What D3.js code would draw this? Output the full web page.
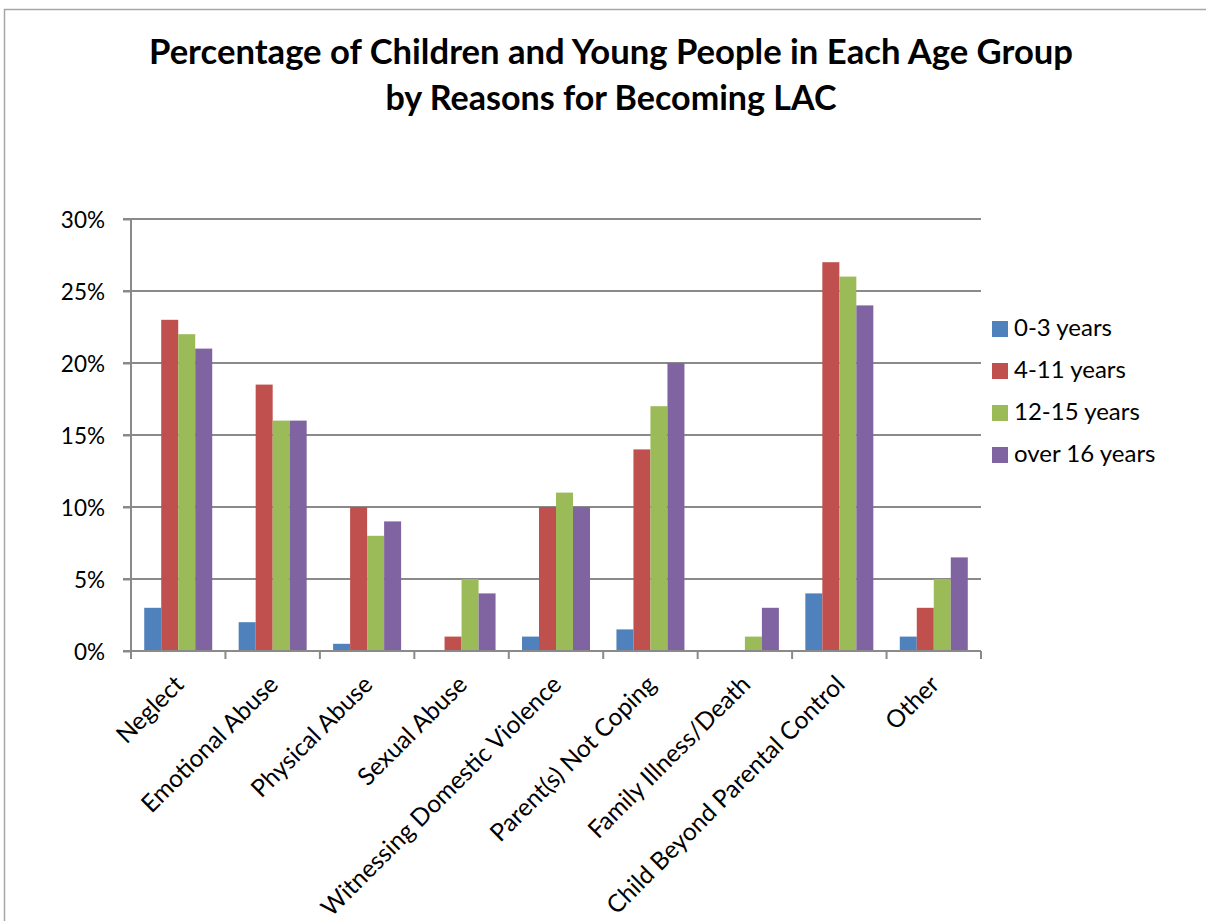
<!DOCTYPE html>
<html>
<head>
<meta charset="utf-8">
<script src="https://cdn.jsdelivr.net/npm/d3@7"></script>
<style>
  body { margin: 0; background: #fff; }
  svg { display: block; }
  text { font-family: Lato, "Open Sans", sans-serif; fill: #000; }
</style>
</head>
<body>
<svg id="chart" width="1206" height="921"></svg>
<script>
const categories = ["Neglect", "Emotional Abuse", "Physical Abuse", "Sexual Abuse",
  "Witnessing Domestic Violence", "Parent(s) Not Coping", "Family Illness/Death",
  "Child Beyond Parental Control", "Other"];
const seriesNames = ["0-3 years", "4-11 years", "12-15 years", "over 16 years"];
const age0to3   = [3, 2, 0.5, 0, 1, 1.5, 0, 4, 1];
const age4to11  = [23, 18.5, 10, 1, 10, 14, 0, 27, 3];
const age12to15 = [22, 16, 8, 5, 11, 17, 1, 26, 5];
const ageOver16 = [21, 16, 9, 4, 10, 20, 3, 24, 6.5];
const yTicks = [0, 5, 10, 15, 20, 25, 30];
const titleLines = ["Percentage of Children and Young People in Each Age Group",
                    "by Reasons for Becoming LAC"];
const colors = ["#4F81BD", "#C0504D", "#9BBB59", "#8064A2"];

const seriesValues = [age0to3, age4to11, age12to15, ageOver16];

const svg = d3.select("#chart");

// outer frame
svg.append("path")
  .attr("d", "M4.5,921 L4.5,9.5 L1206,9.5")
  .attr("fill", "none").attr("stroke", "#a6a6a6").attr("stroke-width", 1.5);

// title
const titleWidths = [924, 451];
const titleY = [64, 110];
titleLines.forEach((t, i) => {
  const el = svg.append("text")
    .attr("x", 611).attr("y", titleY[i])
    .attr("text-anchor", "middle")
    .style("font-weight", "700")
    .style("font-size", "30px")
    .text(t);
  const w = el.node().getComputedTextLength();
  el.style("font-size", (30 * titleWidths[i] / w).toFixed(2) + "px");
});

const x0 = 131, x1 = 981, yTop = 219, yBot = 651;
const y = d3.scaleLinear().domain([0, 30]).range([yBot, yTop]);
const x = d3.scaleBand().domain(categories).range([x0, x1]).padding(0);
const groupW = x.bandwidth() * 0.72;
const xs = d3.scaleBand().domain(seriesNames).range([0, groupW]).padding(0);

// gridlines
svg.append("g").selectAll("line").data(yTicks.filter(d => d > 0)).join("line")
  .attr("x1", x0 - 8).attr("x2", x1)
  .attr("y1", d => y(d)).attr("y2", d => y(d))
  .attr("stroke", "#8a8a8a").attr("stroke-width", 2);

// y axis
const yAxis = d3.axisLeft(y).tickValues(yTicks).tickFormat(d => d + "%").tickSize(8).tickPadding(18);
const gy = svg.append("g").attr("transform", `translate(${x0},0)`).call(yAxis);
gy.select(".domain").attr("stroke", "#8a8a8a").attr("stroke-width", 2).attr("d", `M-8,${yTop}H0V${yBot}H-8`);
gy.selectAll(".tick line").attr("stroke", "#8a8a8a").attr("stroke-width", 2);
gy.selectAll(".tick text").style("font-size", "22.5px").style("font-family", "Lato, sans-serif").attr("fill", "#000").attr("dy", "0.36em");

// bars
const groups = svg.append("g").selectAll("g").data(categories).join("g")
  .attr("transform", d => `translate(${x(d) + (x.bandwidth() - groupW) / 2},0)`);
groups.selectAll("rect")
  .data((c, ci) => seriesNames.map((s, si) => ({ s, si, v: seriesValues[si][ci] })))
  .join("rect")
  .attr("x", d => xs(d.s))
  .attr("width", xs.bandwidth())
  .attr("y", d => y(d.v))
  .attr("height", d => yBot - y(d.v))
  .attr("fill", d => colors[d.si]);

// x axis
const gx = svg.append("g").attr("transform", `translate(0,${yBot})`);
gx.append("line").attr("x1", x0).attr("x2", x1).attr("y1", 0).attr("y2", 0)
  .attr("stroke", "#8a8a8a").attr("stroke-width", 2);
const tickPos = categories.map(c => x(c)).concat([x1]);
gx.selectAll("line.tk").data(tickPos).join("line").attr("class", "tk")
  .attr("x1", d => d).attr("x2", d => d).attr("y1", 0).attr("y2", 8)
  .attr("stroke", "#8a8a8a").attr("stroke-width", 2);
svg.append("g").selectAll("text").data(categories).join("text")
  .attr("text-anchor", "end")
  .attr("transform", d => `translate(${x(d) + x.bandwidth() / 2 + 7},${yBot + 35}) rotate(-45)`)
  .style("font-size", "24.5px")
  .text(d => d);

// legend
const lg = svg.append("g").selectAll("g").data(seriesNames).join("g")
  .attr("transform", (d, i) => `translate(992,${321 + i * 42})`);
lg.append("rect").attr("width", 16).attr("height", 16).attr("fill", (d, i) => colors[i]);
lg.append("text").attr("x", 22).attr("y", 15).style("font-size", "24px").text(d => d);
</script>
</body>
</html>
